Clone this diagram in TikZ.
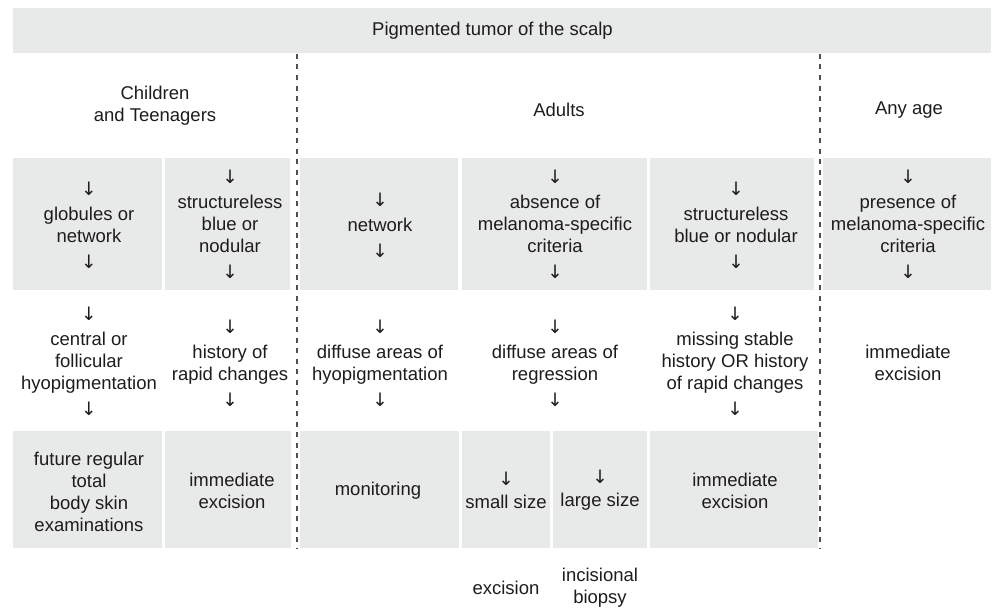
\documentclass[tikz,border=0pt]{standalone}
\usepackage{fontspec}
\setmainfont{Liberation Sans}
\newfontfamily\arrowfont{DejaVu Sans}
\newcommand\downmark{{\arrowfont ↓}}
\definecolor{cellgray}{RGB}{232,233,233}
\definecolor{ink}{RGB}{30,28,28}
\definecolor{divider}{RGB}{80,80,80}
\begin{document}
\begin{tikzpicture}[x=1pt,y=-1pt,
  cell/.style={fill=cellgray, draw=none, inner sep=0pt, outer sep=0pt},
  lbl/.style={text=ink, align=center, inner sep=0pt, font=\fontsize{18.5}{22}\selectfont},
  divline/.style={draw=divider, line width=2.6pt, dash pattern=on 5pt off 5.5pt}]
\useasboundingbox (0,0) rectangle (998,610);

% shaded bands
\node[cell, minimum width=978pt, minimum height=45pt] (banner) at (502,30.5) {};
% second row
\node[cell, minimum width=149pt, minimum height=132pt] (c21) at (87.5,224) {};
\node[cell, minimum width=125pt, minimum height=132pt] (c22) at (227.5,224) {};
\node[cell, minimum width=158pt, minimum height=132pt] (c23) at (379,224) {};
\node[cell, minimum width=185pt, minimum height=132pt] (c24) at (554.5,224) {};
\node[cell, minimum width=164pt, minimum height=132pt] (c25) at (732,224) {};
\node[cell, minimum width=168pt, minimum height=132pt] (c26) at (907,224) {};
% fourth row
\node[cell, minimum width=149pt, minimum height=117pt] (c41) at (87.5,489.5) {};
\node[cell, minimum width=126pt, minimum height=117pt] (c42) at (228,489.5) {};
\node[cell, minimum width=159pt, minimum height=117pt] (c43) at (379.5,489.5) {};
\node[cell, minimum width=88pt, minimum height=117pt] (c44) at (506,489.5) {};
\node[cell, minimum width=94pt, minimum height=117pt] (c45) at (600,489.5) {};
\node[cell, minimum width=168pt, minimum height=117pt] (c46) at (734,489.5) {};

% age-group dividers
\coordinate (d1top) at (297,54);
\coordinate (d1bot) at (297,548);
\coordinate (d2top) at (820,54);
\coordinate (d2bot) at (820,548);
\draw[divline] (d1top) -- (d1bot);
\draw[divline] (d2top) -- (d2bot);

% headings
\node[lbl] (title) at (492.5,31) {Pigmented tumor of the scalp};
\node[lbl] (hkids) at (155,106) {Children\\and Teenagers};
\node[lbl] (hadult) at (559,110) {Adults};
\node[lbl] (hany) at (909,110) {Any age};

% dermoscopic findings
\node[lbl] (t21) at (89,225) {\downmark\\[3pt]globules or\\network\\[4pt]\downmark};
\node[lbl] (t22) at (230,224) {\downmark\\[3pt]structureless\\blue or\\nodular\\[4pt]\downmark};
\node[lbl] (t23) at (380,225) {\downmark\\[3pt]network\\[4pt]\downmark};
\node[lbl] (t24) at (555,224) {\downmark\\[3pt]absence of\\melanoma-specific\\criteria\\[4pt]\downmark};
\node[lbl] (t25) at (736,225) {\downmark\\[3pt]structureless\\blue or nodular\\[4pt]\downmark};
\node[lbl] (t26) at (908,224) {\downmark\\[3pt]presence of\\melanoma-specific\\criteria\\[4pt]\downmark};

% history
\node[lbl] (t31) at (89,361) {\downmark\\[3pt]central or\\follicular\\hyopigmentation\\[4pt]\downmark};
\node[lbl] (t32) at (230,363) {\downmark\\[3pt]history of\\rapid changes\\[4pt]\downmark};
\node[lbl] (t33) at (380,363) {\downmark\\[3pt]diffuse areas of\\hyopigmentation\\[4pt]\downmark};
\node[lbl] (t34) at (555,363) {\downmark\\[3pt]diffuse areas of\\regression\\[4pt]\downmark};
\node[lbl] (t35) at (735,361) {\downmark\\[3pt]missing stable\\history OR history\\of rapid changes\\[4pt]\downmark};
\node[lbl] (t36) at (908,363) {immediate\\excision};

% management
\node[lbl] (t41) at (89,491.5) {future regular\\total\\body skin\\examinations};
\node[lbl] (t42) at (232,490.5) {immediate\\excision};
\node[lbl] (t43) at (378,491) {monitoring};
\node[lbl] (t44) at (506,490.5) {\downmark\\[1pt]small size};
\node[lbl] (t45) at (600,490.5) {\downmark\\[1pt]large size};
\node[lbl] (t46) at (735,490.5) {immediate\\excision};
\node[lbl] (t51) at (506,588) {excision};
\node[lbl] (t52) at (600,588) {incisional\\biopsy};
\end{tikzpicture}
\end{document}
